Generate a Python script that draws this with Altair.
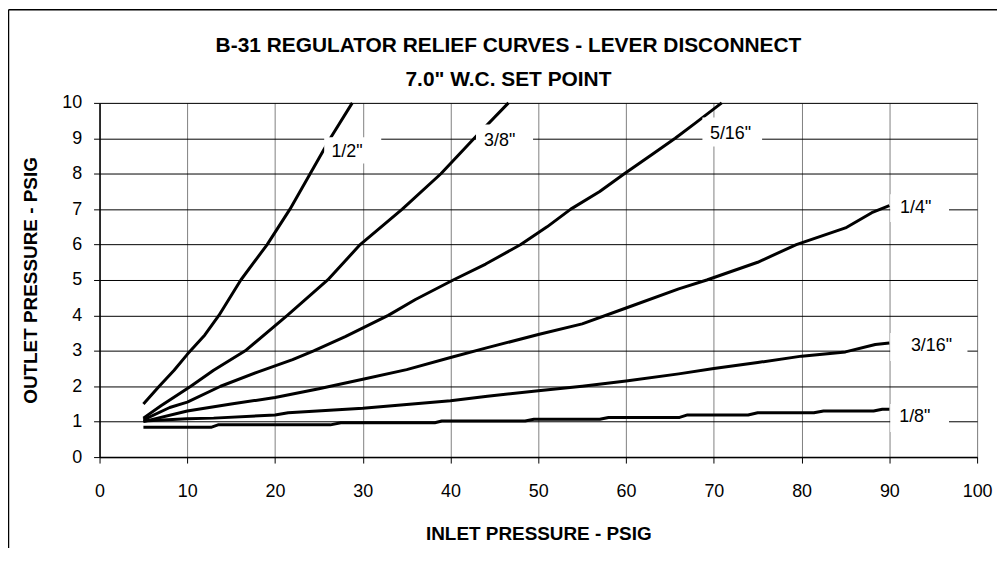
import altair as alt
import pandas as pd

# ---- series data (inlet psig -> outlet psig) ----
half_x = [5, 6.8, 8.5, 10, 12, 13.6, 16.1, 19.1, 21.7, 24.0, 26.3, 28.8]
half_y = [1.5, 2.0, 2.45, 2.9, 3.45, 4.0, 5.0, 6.0, 7.0, 8.0, 9.0, 10.0]

three8_x = [5, 7, 10.4, 13, 16.6, 21.4, 26, 29.7, 34.5, 38.9, 42.7, 46.6]
three8_y = [1.1, 1.45, 2.0, 2.45, 3.0, 4.0, 5.0, 6.0, 7.0, 8.0, 9.0, 10.0]

five16_x = [5, 8, 10, 13.8, 18, 22, 24.4, 28, 32.9, 36, 40.3, 44, 48, 51, 53.7, 57, 59.8, 63, 65.6, 68, 70.9]
five16_y = [1.05, 1.4, 1.55, 2.0, 2.4, 2.75, 3.0, 3.4, 4.0, 4.45, 5.0, 5.45, 6.0, 6.5, 7.0, 7.5, 8.0, 8.55, 9.0, 9.45, 10.0]

quarter_x = [5, 10, 15, 20, 25, 30, 35, 40, 44.2, 50, 55, 60, 66, 69.2, 75, 79.4, 85, 88, 90]
quarter_y = [1.0, 1.3, 1.5, 1.68, 1.93, 2.2, 2.47, 2.81, 3.09, 3.46, 3.76, 4.21, 4.75, 5.0, 5.5, 6.0, 6.47, 6.9, 7.1]

three16_x = [5, 10, 13, 20, 21.5, 30, 40, 44.2, 50, 55, 60, 66, 70, 75, 80, 85, 88.4, 90]
three16_y = [1.02, 1.08, 1.1, 1.19, 1.25, 1.38, 1.59, 1.72, 1.87, 2.0, 2.15, 2.35, 2.5, 2.67, 2.85, 2.97, 3.18, 3.22]

eighth_x = [5, 12.7, 13.5, 26.3, 27.5, 38.2, 39, 48.5, 49.5, 57, 58, 66.1, 67, 73.9, 75, 81.4, 82.5, 88.2, 89.2, 90]
eighth_y = [0.84, 0.84, 0.91, 0.91, 0.97, 0.97, 1.02, 1.02, 1.07, 1.07, 1.12, 1.12, 1.19, 1.19, 1.25, 1.25, 1.3, 1.3, 1.35, 1.35]

series_names = ['1/2"', '3/8"', '5/16"', '1/4"', '3/16"', '1/8"']
series_xs = [half_x, three8_x, five16_x, quarter_x, three16_x, eighth_x]
series_ys = [half_y, three8_y, five16_y, quarter_y, three16_y, eighth_y]

# ---- curve labels (data coordinates) ----
label_text = ['1/2"', '3/8"', '5/16"', '1/4"', '3/16"', '1/8"']
label_x = [28.2, 45.6, 71.9, 93.0, 94.8, 92.9]
label_y = [8.6, 8.91, 9.11, 7.04, 3.13, 1.12]
box_x1 = [25.6, 42.9, 68.7, 90.1, 90.1, 90.1]
box_x2 = [32.1, 49.4, 75.5, 96.8, 98.9, 96.8]
box_y1 = [8.29, 8.38, 8.77, 6.64, 2.71, 0.71]
box_y2 = [9.03, 9.39, 9.59, 7.42, 3.5, 1.5]

x_ticks = [0, 10, 20, 30, 40, 50, 60, 70, 80, 90, 100]
y_ticks = [0, 1, 2, 3, 4, 5, 6, 7, 8, 9, 10]

title_lines = ["B-31 REGULATOR RELIEF CURVES - LEVER DISCONNECT", '7.0" W.C. SET POINT']

rows = []
for name, xs, ys in zip(series_names, series_xs, series_ys):
    for i, (xv, yv) in enumerate(zip(xs, ys)):
        rows.append({"series": name, "inlet": xv, "outlet": yv, "order": i})
df = pd.DataFrame(rows)

lab = pd.DataFrame({"text": label_text, "lx": label_x, "ly": label_y,
                    "bx1": box_x1, "bx2": box_x2, "by1": box_y1, "by2": box_y2})

FONT = "Liberation Sans, Arial, sans-serif"

xscale = alt.Scale(domain=[0, 100], nice=False, zero=True)
yscale = alt.Scale(domain=[0, 10], nice=False)

xaxis = alt.Axis(values=x_ticks, tickCount=11, grid=True, gridColor="#808080", gridWidth=1,
                 domainColor="black", domainWidth=1.5, tickColor="black", tickSize=6,
                 labelFont=FONT, labelFontSize=18, labelColor="black", labelPadding=20,
                 labelBaseline="top", labelFlush=False, labelOverlap=False,
                 title="INLET PRESSURE - PSIG", titleFont=FONT, titleFontSize=19,
                 titleFontWeight="bold", titleColor="black", titleBaseline="alphabetic",
                 titleX=441, titleY=83, titleAlign="center")
yaxis = alt.Axis(values=y_ticks, tickCount=11, grid=True, gridColor="black", gridWidth=1,
                 domainColor="black", domainWidth=1.5, tickColor="black", tickSize=6,
                 labelFont=FONT, labelFontSize=18, labelColor="black", labelPadding=12,
                 labelFlush=False, labelOverlap=False,
                 title="OUTLET PRESSURE - PSIG", titleFont=FONT, titleFontSize=19,
                 titleFontWeight="bold", titleColor="black", titleBaseline="alphabetic",
                 titleAngle=270, titleX=-63, titleY=178, titleAlign="center")

lines = alt.Chart(df).mark_line(color="black", strokeWidth=3, strokeJoin="round").encode(
    x=alt.X("inlet:Q", scale=xscale, axis=xaxis),
    y=alt.Y("outlet:Q", scale=yscale, axis=yaxis),
    detail="series:N",
    order="order:Q",
)

boxes = alt.Chart(lab).mark_rect(color="white").encode(
    x=alt.X("bx1:Q", scale=xscale, axis=xaxis), x2="bx2:Q",
    y=alt.Y("by1:Q", scale=yscale, axis=yaxis), y2="by2:Q",
)

texts = alt.Chart(lab).mark_text(font=FONT, fontSize=18, color="black",
                                 align="center", baseline="middle").encode(
    x=alt.X("lx:Q", scale=xscale, axis=xaxis),
    y=alt.Y("ly:Q", scale=yscale, axis=yaxis), text="text:N"
)

one = pd.DataFrame({"a": [0]})
title1 = alt.Chart(one).mark_text(text=title_lines[0], font=FONT, fontSize=21,
                                  fontWeight="bold", color="black", align="center",
                                  baseline="alphabetic").encode(
    x=alt.value(411), y=alt.value(-51))
title2 = alt.Chart(one).mark_text(text=title_lines[1], font=FONT, fontSize=21,
                                  fontWeight="bold", color="black", align="center",
                                  baseline="alphabetic").encode(
    x=alt.value(411), y=alt.value(-17))

frame_left = alt.Chart(one).mark_rule(color="black", strokeWidth=1.5).encode(
    x=alt.value(-91.5), y=alt.value(-93.5), y2=alt.value(460))
frame_top = alt.Chart(one).mark_rule(color="black", strokeWidth=1.5).encode(
    x=alt.value(-91.5), x2=alt.value(910), y=alt.value(-93.5))

chart = alt.layer(lines, boxes, texts, title1, title2, frame_left, frame_top).properties(
    width=882, height=356,
    autosize=alt.AutoSizeParams(type="none"),
    padding={"left": 92, "top": 94, "right": 20, "bottom": 90},
).configure_view(stroke="#808080", strokeWidth=1).configure(background="white")

chart.save("out.html", embed_options={"renderer": "svg", "actions": False})
